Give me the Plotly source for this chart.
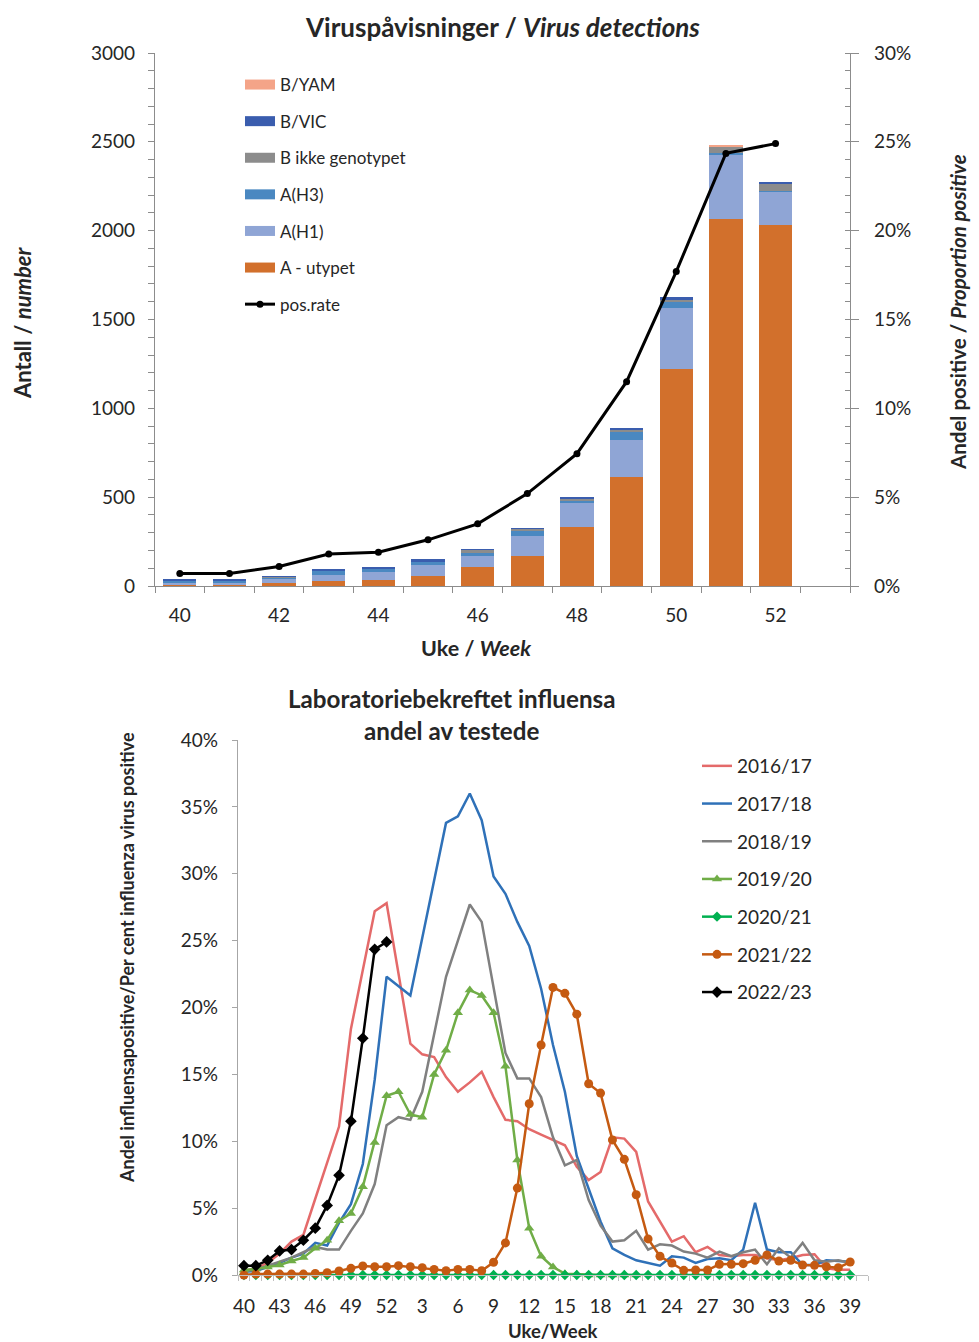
import plotly.graph_objects as go

# ---------------- Data: top chart (virus detections, weeks 40-52) ----------------
weeks_top = [40, 41, 42, 43, 44, 45, 46, 47, 48, 49, 50, 51, 52]
a_utypet = [5, 5, 15, 28, 34, 58, 109, 171, 334, 616, 1224, 2068, 2030]
a_h1 = [13, 13, 26, 34, 43, 62, 60, 113, 131, 206, 340, 362, 188]
a_h3 = [12, 12, 8, 24, 21, 17, 19, 30, 19, 49, 32, 9, 8]
b_ikke = [2, 2, 4, 4, 2, 3, 15, 7, 7, 11, 19, 32, 38]
b_vic = [3, 3, 2, 8, 3, 11, 3, 3, 6, 9, 9, 3, 11]
b_yam = [0, 0, 0, 0, 0, 0, 0, 0, 0, 0, 0, 9, 0]
pos_rate = [0.7, 0.7, 1.1, 1.8, 1.9, 2.6, 3.5, 5.2, 7.45, 11.5, 17.7, 24.35, 24.9]

# ---------------- Data: bottom chart (% positive by season, weeks 40..52, 1..39) ----------------
season_weeks = [str(w) for w in list(range(40, 53)) + list(range(1, 40))]
s2016_17 = [0.3, 0.5, 0.9, 1.6, 2.5, 3.0, 5.7, 8.4, 11.1, 18.4, 22.9, 27.2, 27.8,
            22.4, 17.3, 16.5, 16.3, 14.8, 13.7, 14.4, 15.2, 13.3, 11.6, 11.5, 10.9, 10.5,
            10.1, 9.7, 8.1, 7.1, 7.7, 10.3, 10.2, 9.2, 5.5, 4.0, 2.5, 2.9, 1.7, 2.1,
            1.5, 1.4, 1.5, 1.5, 1.25, 1.1, 1.25, 1.5, 1.55, 0.5, 0.4, 0.4]
s2017_18 = [0.25, 0.3, 0.6, 0.9, 1.3, 1.6, 2.4, 2.2, 3.9, 5.3, 8.3, 14.6, 22.3,
            21.6, 20.9, 25.2, 29.5, 33.8, 34.3, 36.0, 34.0, 29.8, 28.5, 26.4, 24.6, 21.4,
            17.2, 13.7, 8.9, 6.5, 4.0, 2.0, 1.5, 1.1, 0.9, 0.7, 1.4, 1.3, 0.9, 1.2,
            1.25, 1.1, 1.9, 5.4, 1.9, 1.7, 1.7, 0.75, 0.75, 1.1, 1.05, 1.0]
s2018_19 = [0.3, 0.4, 0.7, 1.0, 1.3, 1.7, 2.1, 1.9, 1.9, 3.3, 4.6, 6.8, 11.2,
            11.8, 11.6, 13.7, 18.1, 22.3, 25.0, 27.7, 26.4, 21.6, 16.6, 14.7, 14.7, 13.3,
            10.3, 8.2, 8.6, 5.6, 3.7, 2.5, 2.6, 3.3, 1.9, 2.3, 2.2, 1.75, 1.6, 1.3,
            1.75, 1.4, 1.7, 1.9, 0.8, 2.0, 1.3, 2.4, 1.1, 1.0, 1.1, 0.9]
s2019_20 = [0.37, 0.45, 0.6, 0.75, 1.05, 1.3, 2.0, 2.6, 4.05, 4.6, 6.6, 9.9, 13.4,
            13.7, 12.0, 11.8, 15.0, 16.8, 19.6, 21.3, 20.9, 19.6, 15.6, 8.6, 3.5, 1.4,
            0.6, 0.1, 0.05, 0.0, 0.0, 0.0, 0.0, 0.0]
s2020_21 = [0.0] * 52
s2021_22 = [0.0, 0.07, 0.07, 0.07, 0.07, 0.07, 0.12, 0.17, 0.3, 0.5, 0.67, 0.62, 0.62,
            0.7, 0.62, 0.55, 0.42, 0.32, 0.42, 0.42, 0.32, 0.95, 2.4, 6.5, 12.8, 17.2,
            21.5, 21.06, 19.5, 14.3, 13.6, 10.1, 8.65, 6.0, 2.7, 1.4, 0.9, 0.35, 0.37, 0.37,
            0.8, 0.8, 0.85, 1.1, 1.5, 1.05, 1.1, 0.75, 0.72, 0.62, 0.55, 0.97]
s2022_23 = pos_rate

# The page body adds an 8px margin, so the figure is laid out with that offset.
OFF = 8
W, H = 979 - OFF, 1342 - OFF
FONT = "Lato"
TXT = "#262626"


def fx(p):
    return (p - OFF) / W


def fy(p):
    return 1 - (p - OFF) / H


fig = go.Figure()

# ---------------- Top chart bars ----------------
bar_specs = [
    ("A - utypet", a_utypet, "#D2702C"),
    ("A(H1)", a_h1, "#8FA5D5"),
    ("A(H3)", a_h3, "#4A88C1"),
    ("B ikke genotypet", b_ikke, "#8C8C8C"),
    ("B/VIC", b_vic, "#3A5DAE"),
    ("B/YAM", b_yam, "#F4A488"),
]
for name, vals, col in bar_specs:
    fig.add_trace(go.Bar(x=weeks_top, y=vals, name=name, width=0.67,
                         marker=dict(color=col, line=dict(width=0)),
                         showlegend=False, xaxis="x", yaxis="y"))

fig.add_trace(go.Scatter(x=weeks_top, y=pos_rate, mode="lines+markers", name="pos.rate",
                         line=dict(color="black", width=3), marker=dict(color="black", size=7),
                         xaxis="x", yaxis="y2", legend="legend", legendrank=7,
                         legendgroup="pos"))

# legend-only entries for the bar series (bar-like symbols)
for rank, (name, vals, col) in enumerate(reversed(bar_specs), start=1):
    fig.add_trace(go.Scatter(x=[None], y=[None], mode="lines", name=name,
                             line=dict(color=col, width=10), xaxis="x", yaxis="y",
                             legend="legend", legendrank=rank, legendgroup=name))

# ---------------- Bottom chart lines ----------------
x_idx = list(range(len(season_weeks)))
line_specs = [
    ("2016/17", s2016_17, "#E46A6A", None, 0),
    ("2017/18", s2017_18, "#2F71B8", None, 0),
    ("2018/19", s2018_19, "#808080", None, 0),
    ("2019/20", s2019_20, "#70AD47", "triangle-up", 9),
    ("2020/21", s2020_21, "#00B050", "diamond", 8),
    ("2021/22", s2021_22, "#C55A11", "circle", 9),
    ("2022/23", s2022_23, "#000000", "diamond", 9),
]
for rank, (name, vals, col, sym, size) in enumerate(line_specs, start=1):
    kw = dict(x=x_idx[:len(vals)], y=vals, name=name, xaxis="x3", yaxis="y3",
              legend="legend2", legendgroup="s" + name, legendrank=rank,
              line=dict(color=col, width=2.5), cliponaxis=False)
    if sym:
        kw.update(mode="lines+markers", marker=dict(symbol=sym, size=size, color=col))
    else:
        kw.update(mode="lines")
    fig.add_trace(go.Scatter(**kw))

axis_col = "#8C8C8C"
tickfont = dict(family=FONT, size=19, color=TXT)

fig.update_layout(
    template="none",
    width=W, height=H,
    margin=dict(l=0, r=0, t=0, b=0, autoexpand=False),
    paper_bgcolor="white", plot_bgcolor="white",
    barmode="stack", bargap=0.33,
    font=dict(family=FONT, color=TXT),
    hovermode=False,
    xaxis=dict(domain=[fx(155), fx(850)], anchor="y", range=[39.5, 53.5],
               tickvals=[40, 42, 44, 46, 48, 50, 52], ticks="", showline=True,
               linecolor=axis_col, linewidth=1.3, showgrid=False, zeroline=False,
               tickfont=tickfont, ticklabelstandoff=12, automargin=False,
               minor=dict(ticks="outside", ticklen=6, tick0=39.5, dtick=1,
                          tickcolor=axis_col, showgrid=False)),
    yaxis=dict(domain=[fy(586), fy(53)], anchor="x", range=[0, 3000], dtick=500,
               ticks="outside", ticklen=6, tickcolor=axis_col, showline=True,
               linecolor=axis_col, linewidth=1.3, showgrid=False, zeroline=False,
               tickfont=tickfont, ticklabelstandoff=9, automargin=False,
               minor=dict(ticks="outside", ticklen=6, dtick=100, tickcolor=axis_col,
                          showgrid=False)),
    yaxis2=dict(overlaying="y", side="right", anchor="x", range=[0, 30], dtick=5,
                ticksuffix="%", ticks="outside", ticklen=8, tickcolor=axis_col,
                showline=True, linecolor=axis_col, linewidth=1.3, showgrid=False,
                zeroline=False, tickfont=tickfont, ticklabelstandoff=11, automargin=False,
                minor=dict(ticks="inside", ticklen=5, dtick=1, tickcolor=axis_col,
                           showgrid=False)),
    xaxis3=dict(domain=[fx(238), fx(868)], anchor="y3", range=[-0.5, 52.5],
                tickvals=x_idx[::3], ticktext=season_weeks[::3], ticks="",
                showline=True, linecolor="#BFBFBF", linewidth=1.3, showgrid=False,
                zeroline=False, tickfont=tickfont, ticklabelstandoff=14,
                automargin=False,
                minor=dict(ticks="outside", ticklen=5, tick0=-0.5, dtick=1,
                           tickcolor="#BFBFBF", showgrid=False)),
    yaxis3=dict(domain=[fy(1275), fy(740)], anchor="x3", range=[0, 40], dtick=5,
                ticksuffix="%", ticks="outside", ticklen=5, tickcolor="#A6A6A6",
                showline=True, linecolor="#A6A6A6", linewidth=1.3, showgrid=False,
                zeroline=False, tickfont=tickfont, ticklabelstandoff=10,
                automargin=False),
    legend=dict(x=fx(240), y=fy(67), xanchor="left", yanchor="top",
                bgcolor="rgba(0,0,0,0)", font=dict(family=FONT, size=17, color=TXT),
                tracegroupgap=11.5, traceorder="grouped", itemclick=False,
                itemdoubleclick=False),
    legend2=dict(x=fx(697), y=fy(747), xanchor="left", yanchor="top",
                 bgcolor="rgba(0,0,0,0)", font=dict(family=FONT, size=19, color=TXT),
                 tracegroupgap=10, traceorder="grouped", itemclick=False,
                 itemdoubleclick=False),
)

ann = [
    dict(text="<b>Viruspåvisninger / <i>Virus detections</i></b>", x=fx(502), y=fy(27),
         font=dict(size=26)),
    dict(text="<b>Antall / <i>number</i></b>", x=fx(22), y=fy(323), textangle=-90,
         font=dict(size=22)),
    dict(text="<b>Andel positive / <i>Proportion positive</i></b>", x=fx(958), y=fy(312),
         textangle=-90, font=dict(size=20.5)),
    dict(text="<b>Uke / <i>Week</i></b>", x=fx(476), y=fy(648), font=dict(size=21.5)),
    dict(text="<b>Laboratoriebekreftet influensa</b>", x=fx(451), y=fy(698),
         font=dict(size=24.2)),
    dict(text="<b>andel av testede</b>", x=fx(451), y=fy(730), font=dict(size=24.2)),
    dict(text="<b>Andel influensapositive/Per cent influenza virus positive</b>",
         x=fx(127), y=fy(958), textangle=-90, font=dict(size=18)),
    dict(text="<b>Uke/Week</b>", x=fx(553), y=fy(1331), font=dict(size=18.5)),
]
for a in ann:
    a.update(xref="paper", yref="paper", showarrow=False, xanchor="center",
             yanchor="middle")
    a["font"].update(family=FONT, color=TXT)
fig.update_layout(annotations=ann)

fig.write_html("out.html")
